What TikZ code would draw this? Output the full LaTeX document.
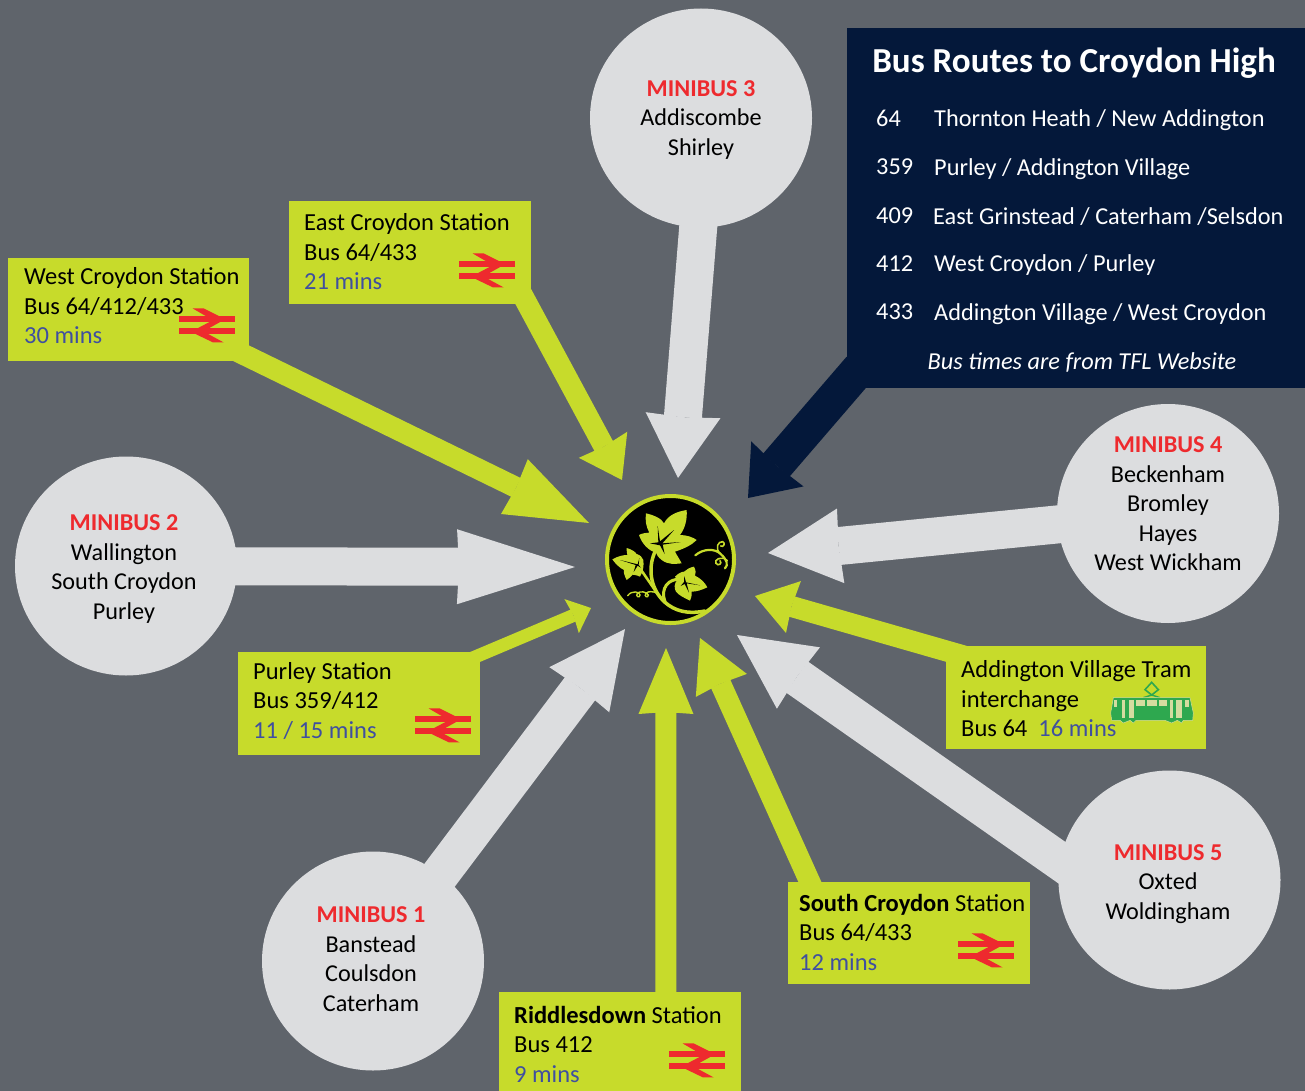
\documentclass[tikz,border=0pt]{standalone}
\usepackage{fontspec}
\setmainfont{Carlito}
\usetikzlibrary{arrows.meta,backgrounds,calc,shapes.geometric}
\definecolor{bgc}{HTML}{5F646B}
\definecolor{pale}{HTML}{DCDDDF}
\definecolor{lime}{HTML}{C7DB2B}
\definecolor{navy}{HTML}{04183A}
\definecolor{redm}{HTML}{EE2A2E}
\definecolor{bluet}{HTML}{3F4FA0}
\definecolor{tramg}{HTML}{2EA84F}
\newcommand{\mb}[1]{{\bfseries\color{redm}#1}}
\newcommand{\mn}[1]{{\color{bluet}#1}}
\tikzset{
 x=1pt,y=-1pt,
 body/.style={inner sep=0pt,font=\fontsize{24.5}{29.5}\selectfont,text=black},
 circ/.style={ellipse,fill=pale,minimum width=222pt,minimum height=219pt,inner sep=0pt},
 ctext/.style={body,align=center,font=\fontsize{24.2}{29.5}\selectfont},
 ltext/.style={body,align=left,anchor=west},
 limebox/.style={fill=lime,inner sep=0pt},
 wtext/.style={inner sep=0pt,anchor=west,text=white,font=\fontsize{24.3}{29}\selectfont},
 bigarrow/.style={draw=pale,line width=38pt},
 raila/.style={draw=lime,line width=21pt},
 brlogo/.pic={
  \begin{scope}[scale=1/3,shift={(-128.5,-103)}]
  \fill[redm] (45,77) rectangle (212,95);
  \fill[redm] (45,113) rectangle (212,130);
  \fill[redm] (85,53)--(118,53)--(168,78)--(128,78)--cycle;
  \fill[redm] (136,94)--(168,94)--(132,114)--(98,114)--cycle;
  \fill[redm] (92,129)--(130,129)--(178,155)--(146,155)--cycle;
  \end{scope}},
 tramicon/.pic={
  \begin{scope}[scale=1/3,shift={(-186,-100)}]
  \draw[tramg,line width=1.6pt] (185,38)--(165,60)--(185,76)--(205,60)--cycle;
  \draw[tramg,line width=1.4pt] (185,76)--(160,84) (185,76)--(210,84);
  \fill[tramg,draw=pale!60!lime,line width=.5pt] (70,84)--(300,84)--(310,130)--(308,152)--(280,152)--(275,160)--(262,152)--(245,160)--(225,152)--(138,152)--(130,160)--(120,152)--(100,160)--(90,152)--(65,152)--(62,130)--cycle;
  \fill[lime!35!pale] (73,90) rectangle (82,112);
  \fill[lime!35!pale] (97,90) rectangle (105,145);
  \fill[lime!35!pale] (116,90) rectangle (132,145);
  \fill[lime!35!pale] (138,92) rectangle (166,108);
  \fill[lime!35!pale] (172,92) rectangle (200,108);
  \fill[lime!35!pale] (206,92) rectangle (232,108);
  \fill[lime!35!pale] (240,90) rectangle (250,145);
  \fill[lime!35!pale] (259,90) rectangle (275,145);
  \fill[lime!35!pale] (285,90) rectangle (298,112);
  \end{scope}},
}
\begin{document}
\begin{tikzpicture}
\useasboundingbox (0,0) rectangle (1305,1091);
% nodes
\node[circ] (m3) at (701,118) {};
\node[circ] (m4) at (1168,513.5) {};
\node[circ] (m2) at (126,566) {};
\node[circ] (m1) at (373,961) {};
\node[circ] (m5) at (1169.5,880) {};
\node[limebox,minimum width=242pt,minimum height=103pt] (east) at (410,252.5) {};
\node[limebox,minimum width=241pt,minimum height=103pt] (west) at (128.5,309.5) {};
\node[limebox,minimum width=242pt,minimum height=103pt] (purley) at (359,703.5) {};
\node[limebox,minimum width=242pt,minimum height=99pt] (ridd) at (620,1041.5) {};
\node[limebox,minimum width=242pt,minimum height=102pt] (south) at (909,933) {};
\node[limebox,minimum width=260pt,minimum height=103pt] (addn) at (1076,697.5) {};
\node[fill=navy,inner sep=0pt,minimum width=458pt,minimum height=360pt] (panel) at (1076,208) {};
\node[circle,fill=black,draw=lime,line width=4pt,minimum size=127pt,inner sep=0pt] (logo) at (670.5,559.5) {};
% target points of the arrows
\coordinate (t3) at (678,478);
\coordinate (t4) at (768,553);
\coordinate (t2) at (575,567);
\coordinate (t1) at (625,629);
\coordinate (t5) at (737,635);
\coordinate (te) at (622,480);
\coordinate (tw) at (589,523);
\coordinate (tp) at (591,608);
\coordinate (tr) at (666,648);
\coordinate (ts) at (700,638);
\coordinate (ta) at (755,596);
\coordinate (tn) at (748,498);
\begin{scope}[on background layer]
\fill[bgc] (0,0) rectangle (1305,1091);
\draw[bigarrow,-{Stealth[length=63pt,width=75pt,inset=2pt,line width=0pt]}] ([xshift=6pt]m3.center)--(t3);
\draw[bigarrow,-{Stealth[length=73pt,width=75pt,inset=2pt,line width=0pt]}] (m4.center)--(t4);
\draw[bigarrow,-{Stealth[length=118pt,width=75pt,inset=2pt,line width=0pt]}] (m2.center)--(t2);
\draw[bigarrow,-{Stealth[length=76pt,width=75pt,inset=2pt,line width=0pt]}] ([xshift=2pt]m1.center)--(t1);
\draw[bigarrow,-{Stealth[length=75pt,width=75pt,inset=2pt,line width=0pt]}] ([xshift=-80pt,yshift=-2pt]m5.center)--(t5);
\draw[raila,-{Stealth[length=40pt,width=55pt,inset=2pt,line width=0pt]}] ($(te)!1.15!([xshift=-6pt,yshift=4pt]east.south east)$)--(te);
\draw[raila,-{Stealth[length=83pt,width=61pt,inset=2pt,line width=0pt]}] ($(tw)!1.1!([yshift=4pt]west.south east)$)--(tw);
\draw[draw=lime,line width=13pt,-{Stealth[length=21pt,width=37pt,inset=2pt,line width=0pt]}] ($(tp)!1.2!([yshift=-3pt]purley.north east)$)--(tp);
\draw[raila,-{Stealth[length=66pt,width=55pt,inset=2pt,line width=0pt]}] ([xshift=167pt,yshift=-10pt]ridd.north west)--(tr);
\draw[raila,-{Stealth[length=52pt,width=56pt,inset=2pt,line width=0pt]}] ($(ts)!1.1!([xshift=22pt]south.north west)$)--(ts);
\draw[raila,-{Stealth[length=40pt,width=54pt,inset=2pt,line width=0pt]}] ($(ta)!1.15!([yshift=-5pt]addn.north west)$)--(ta);
\draw[draw=navy,line width=35pt,-{Stealth[length=45pt,width=69pt,inset=2pt,line width=0pt]}] ([xshift=13pt,yshift=20pt]panel.south west)--(tn);
\end{scope}
% circle texts
\node[ctext] (m3t) at (701,120) {\mb{MINIBUS 3}\\Addiscombe\\Shirley};
\node[ctext] (m4t) at (1168,504) {\mb{MINIBUS 4}\\Beckenham\\Bromley\\Hayes\\West Wickham};
\node[ctext] (m2t) at (124,569) {\mb{MINIBUS 2}\\Wallington\\South Croydon\\Purley};
\node[ctext] (m1t) at (371,959) {\mb{MINIBUS 1}\\Banstead\\Coulsdon\\Caterham};
\node[ctext] (m5t) at (1168,884) {\mb{MINIBUS 5}\\Oxted\\Woldingham};
% box texts
\node[ltext] (et) at (304,252) {East Croydon Station\\Bus 64/433\\\mn{21 mins}};
\node[ltext] (wt) at (24,306) {West Croydon Station\\Bus 64/412/433\\\mn{30 mins}};
\node[ltext] (pt) at (253,701) {Purley Station\\Bus 359/412\\\mn{11 / 15 mins}};
\node[ltext] (rt) at (514,1044) {\textbf{Riddlesdown} Station\\Bus 412\\\mn{9 mins}};
\node[ltext] (st) at (799,932) {\textbf{South Croydon} Station\\Bus 64/433\\\mn{12 mins}};
\node[ltext] (at) at (961,699) {Addington Village Tram\\interchange\\Bus 64~~\mn{16 mins}};
% panel texts
\node[inner sep=0pt,text=white,font=\fontsize{35.1}{38}\selectfont\bfseries] (title) at (1074,63) {Bus Routes to Croydon High};
\node[wtext] (n1) at (876,118) {64};
\node[wtext] (d1) at (934,120) {Thornton Heath / New Addington};
\node[wtext] (n2) at (876,167) {359};
\node[wtext] (d2) at (934,169) {Purley / Addington Village};
\node[wtext] (n3) at (876,216) {409};
\node[wtext] (d3) at (933,217) {East Grinstead / Caterham /Selsdon};
\node[wtext] (n4) at (876,264) {412};
\node[wtext] (d4) at (934,265) {West Croydon / Purley};
\node[wtext] (n5) at (876,312) {433};
\node[wtext] (d5) at (934,314) {Addington Village / West Croydon};
\node[wtext,anchor=center] (foot) at (1082,362) {\itshape Bus times are from TFL Website};
% rail logos
\pic at (487,270) {brlogo};
\pic at (207,325) {brlogo};
\pic at (443,725) {brlogo};
\pic at (697,1060) {brlogo};
\pic at (986,950) {brlogo};
\pic at (1152,703) {tramicon};
% ivy emblem
\begin{scope}[shift={(590,480)},scale=1/3]
\draw[lime,line width=3.5pt,line cap=round] (195,215) .. controls (172,265) and (180,335) .. (235,375) .. controls (270,400) and (310,400) .. (345,393);
\draw[lime,line width=3pt,line cap=round] (272,298) .. controls (235,295) and (210,325) .. (225,365);
\draw[lime,line width=2.6pt,line cap=round] (152,268) -- (205,345);
\draw[lime,line width=2.2pt,line cap=round] (316,226) .. controls (340,205) and (375,205) .. (392,222) .. controls (412,240) and (415,255) .. (405,265);
\draw[lime,line width=1.6pt,line cap=round] (392,222) .. controls (372,205) and (385,183) .. (398,185) .. controls (408,190) and (400,203) .. (392,198);
\draw[lime,line width=1.6pt,line cap=round] (412,242) .. controls (395,225) and (370,240) .. (378,250) .. controls (385,260) and (398,250) .. (390,242);
\draw[lime,line width=1.4pt,line cap=round] (113,347) .. controls (125,330) and (150,335) .. (150,345) .. controls (150,355) and (135,350) .. (142,340) .. controls (150,332) and (170,335) .. (175,345) .. controls (175,355) and (160,350) .. (168,340) .. controls (175,332) and (190,335) .. (198,338);
% big leaf
\fill[lime] (168,100) .. controls (190,105) and (215,115) .. (222,130) .. controls (235,105) and (260,95) .. (290,90) .. controls (292,120) and (285,145) .. (270,165) .. controls (290,165) and (310,172) .. (320,180) .. controls (305,195) and (285,205) .. (255,215) .. controls (262,228) and (270,240) .. (275,250) .. controls (255,252) and (235,255) .. (215,240) .. controls (205,232) and (200,225) .. (198,218) .. controls (175,212) and (155,190) .. (147,165) .. controls (155,160) and (170,158) .. (178,158) .. controls (168,140) and (165,120) .. (168,100) -- cycle;
\fill[black] (203,138) -- (210,184) -- (252,150) -- (217,190) -- (272,186) -- (218,194) -- (224,222) -- (210,196) -- (180,190) -- (205,187) -- cycle;
% left leaf
\fill[lime] (67,238) .. controls (85,228) and (100,225) .. (112,225) .. controls (110,218) and (110,210) .. (110,204) .. controls (125,208) and (135,215) .. (140,222) .. controls (150,225) and (158,232) .. (160,240) .. controls (162,255) and (160,275) .. (150,290) .. controls (140,285) and (132,285) .. (128,284) .. controls (122,290) and (115,297) .. (110,300) .. controls (102,285) and (100,275) .. (102,270) .. controls (90,265) and (75,250) .. (67,238) -- cycle;
\fill[black] (90,240) -- (143,253) -- (148,234) -- (146,255) -- (153,263) -- (143,257) -- (131,276) -- (137,255) -- cycle;
% right leaf
\fill[lime] (255,290) .. controls (265,280) and (275,275) .. (282,275) .. controls (290,268) and (300,262) .. (312,260) .. controls (318,272) and (318,280) .. (315,287) .. controls (332,295) and (345,308) .. (352,322) .. controls (335,330) and (320,335) .. (305,335) .. controls (306,345) and (304,355) .. (300,362) .. controls (285,355) and (265,345) .. (258,335) .. controls (252,325) and (252,310) .. (262,300) -- cycle;
\fill[black] (283,288) -- (288,307) -- (330,316) -- (290,310) -- (297,338) -- (284,312) -- (272,318) -- (282,306) -- cycle;
\end{scope}
\end{tikzpicture}
\end{document}
